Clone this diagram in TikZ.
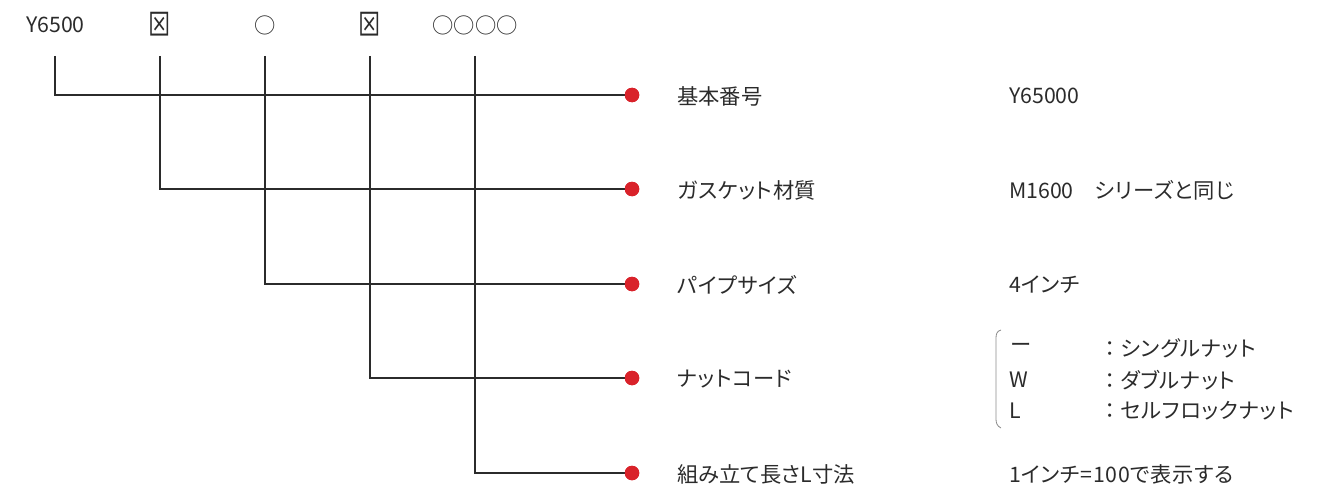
\documentclass[tikz,border=0pt]{standalone}
\usepackage{fontspec}
\setmainfont[RawFeature=+palt]{Noto Sans CJK JP}
\newfontfamily\plainfont{Noto Sans CJK JP}
\newfontfamily\kanafont[RawFeature=+palt,LetterSpace=3]{Noto Sans CJK JP}
\definecolor{ink}{HTML}{2B2B2B}
\definecolor{dotred}{HTML}{D9222A}
\definecolor{brk}{HTML}{8A8A8A}
\tikzset{
  txt/.style={inner sep=0pt, anchor=west, text=ink, font=\fontsize{21.3}{24}\selectfont},
  ktxt/.style={txt, font=\kanafont\fontsize{21.3}{24}\selectfont},
  top/.style={inner sep=0pt, anchor=center, text=ink, font=\plainfont\fontsize{21.3}{24}\selectfont},
  conn/.style={draw=ink, line width=1.9pt},
  dot/.style={circle, fill=dotred, inner sep=0pt, minimum size=14.5pt},
  brace/.style={draw=brk, line width=0.8pt}
}
\begin{document}
\begin{tikzpicture}[x=1pt,y=-1pt]
\useasboundingbox (0,0) rectangle (1331,487);
% top row
\node[txt] (t1) at (26,25) {Y6500};
\node[top] (t2) at (160,24) {\scalebox{1.05}[1.4]{⊠}};
\node[top] (t3) at (265,25) {○};
\node[top] (t4) at (370,24) {\scalebox{1.05}[1.4]{⊠}};
\node[top] (t5) at (475,25) {○○○○};
% line starts
\coordinate (s1) at (55,56);
\coordinate (s2) at (160,56);
\coordinate (s3) at (265,56);
\coordinate (s4) at (370,56);
\coordinate (s5) at (475,56);
% dots
\node[dot] (d1) at (632,95) {};
\node[dot] (d2) at (632,189) {};
\node[dot] (d3) at (632,284) {};
\node[dot] (d4) at (632,378) {};
\node[dot] (d5) at (632,473) {};
% connectors
\draw[conn] (s1) |- (d1.center);
\draw[conn] (s2) |- (d2.center);
\draw[conn] (s3) |- (d3.center);
\draw[conn] (s4) |- (d4.center);
\draw[conn] (s5) |- (d5.center);
\foreach \i in {1,...,5} \node[dot] at (d\i) {};
% labels
\node[txt] (l1) at (677,96) {基本番号};
\node[ktxt] (l2) at (677,190) {ガスケット材質};
\node[ktxt] (l3) at (677,285) {パイプサイズ};
\node[ktxt] (l4) at (677,379) {ナットコード};
\node[txt] (l5) at (677,474) {組み立て長さL寸法};
% values
\node[txt] (v1) at (1009,96) {Y65000};
\node[txt] (v2) at (1009,190) {M1600\hspace{21pt}{\kanafont シリーズと同じ}};
\node[ktxt] (v3) at (1009,285) {4インチ};
\node[ktxt] (v5) at (1009,474) {1インチ=100で表示する};
% brace list
\draw[brace] (1001,330) .. controls (997,331) and (996,334) .. (996,338) -- (996,419) .. controls (996,423) and (997,426) .. (1001,428);
\node[txt] (c1) at (1010,348) {\plainfont ー};
\node[txt] (c2) at (1009,380) {W};
\node[txt] (c3) at (1009,411) {L};
\node[ktxt] (n1) at (1099,348) {{\plainfont ：}シングルナット};
\node[ktxt] (n2) at (1099,380) {{\plainfont ：}ダブルナット};
\node[ktxt] (n3) at (1099,411) {{\plainfont ：}セルフロックナット};
\end{tikzpicture}
\end{document}
